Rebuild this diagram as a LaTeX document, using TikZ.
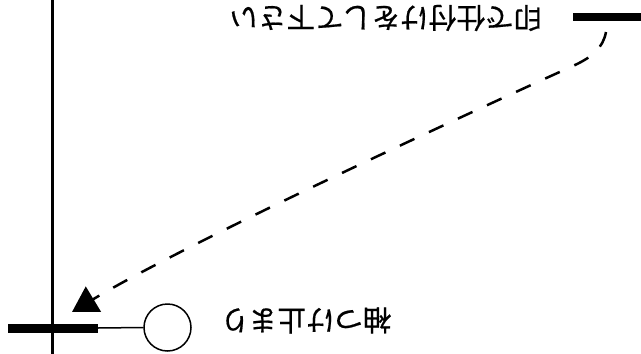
\documentclass[tikz,border=0pt]{standalone}
\usepackage{fontspec}
\newfontfamily\jp[FakeBold=0.6]{Noto Sans CJK JP}
\usetikzlibrary{arrows.meta}
\begin{document}
\begin{tikzpicture}[x=1pt,y=-1pt,
  thinline/.style={line width=1.5pt},
  thickbar/.style={line width=9pt},
  lbl/.style={rotate=180,font=\jp\fontsize{28.5}{28.5}\selectfont,inner sep=0pt},
  dashline/.style={line width=2.5pt,dash pattern=on 16pt off 16pt,-{Triangle[length=25pt,width=29pt]}}]
\useasboundingbox (0,0) rectangle (641,354);
\coordinate (vt) at (52.5,0);
\coordinate (vb) at (52.5,354);
\draw[line width=2.3pt] (vt) -- (vb);
\coordinate (bl) at (8,328);
\coordinate (br) at (98,328);
\draw[thickbar] (bl) -- (br);
\node[circle,draw,thinline,minimum size=47pt,inner sep=0pt] (c) at (167.5,327.5) {};
\draw[thinline] (br) -- (c.west);
\node[lbl] (t2) at (306,320.5) {袖つけ止まり};
\coordinate (tl) at (573,16.7);
\coordinate (tr) at (641,16.7);
\draw[line width=8pt] (tl) -- (tr);
\node[lbl] (t1) at (386,18) {印で仕付けをして下さい};
\coordinate (ds) at (606,32);
\coordinate (dm) at (575,65);
\coordinate (de) at (72,312);
\draw[dashline] (ds) .. controls (603,48) and (592,57) .. (dm)
  .. controls (300,190) and (150,265) .. (de);
\end{tikzpicture}
\end{document}
